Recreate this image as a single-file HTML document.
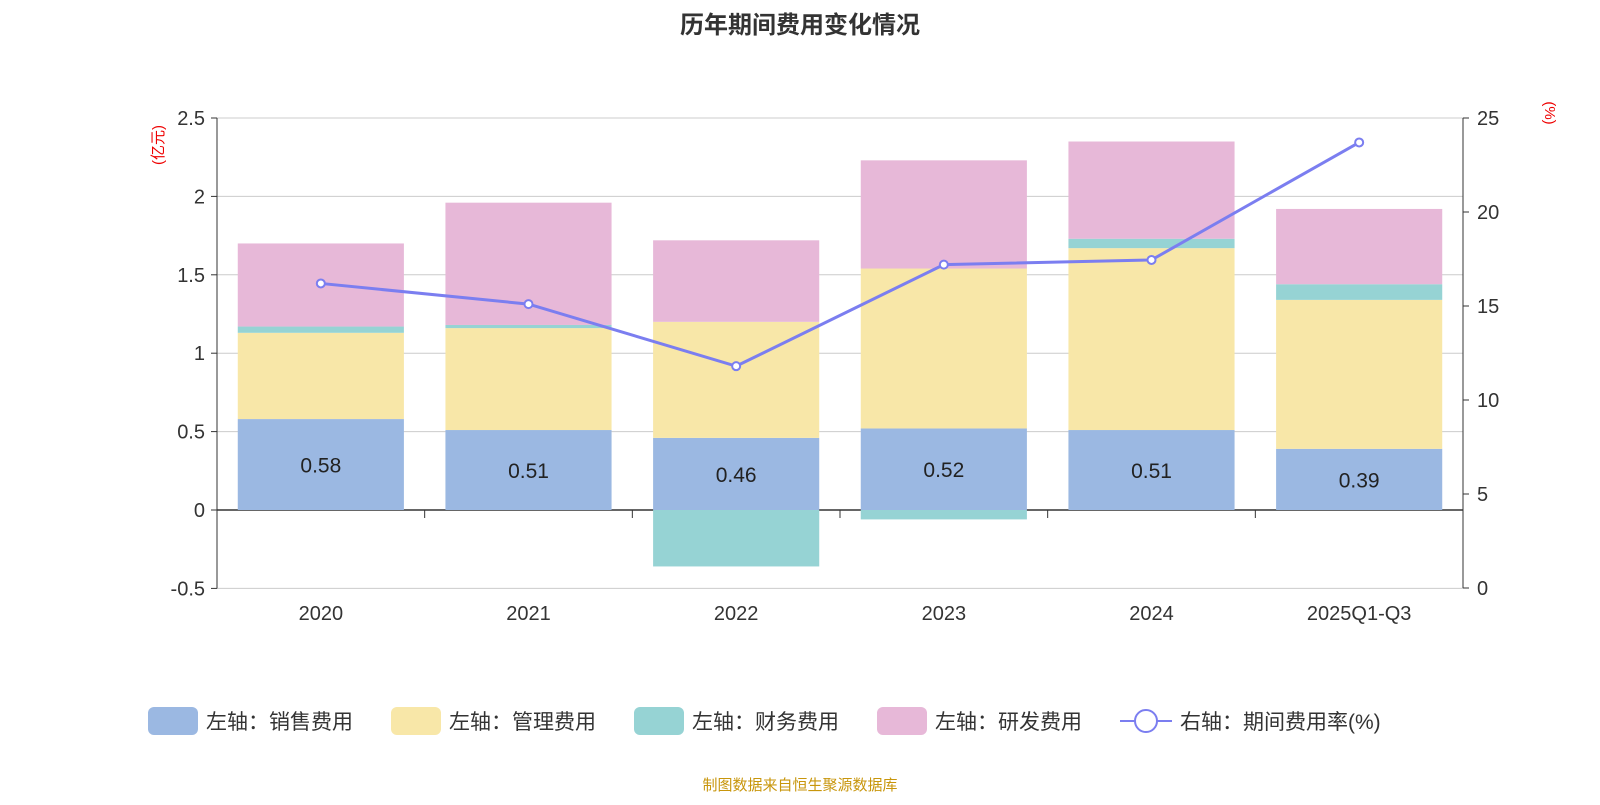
<!DOCTYPE html>
<html><head><meta charset="utf-8">
<style>
body{margin:0;background:#fff;font-family:"Liberation Sans","Noto Sans CJK SC",sans-serif;}
svg text{font-family:"Liberation Sans","Noto Sans CJK SC",sans-serif;}
</style></head>
<body>
<svg id="chart" width="1600" height="800" xmlns="http://www.w3.org/2000/svg">
<text x="800" y="33" text-anchor="middle" font-size="24" font-weight="bold" fill="#333">历年期间费用变化情况</text>
<text transform="translate(163,145) rotate(-90)" text-anchor="middle" font-size="15" fill="#e00">(亿元)</text>
<text transform="translate(1545,113) rotate(90)" text-anchor="middle" font-size="15" fill="#e00">(%)</text>
<g id="grid"></g><g id="bars"></g><g id="axes"></g><g id="line"></g>
<g id="legend"></g>
<text x="800" y="790" text-anchor="middle" font-size="15" fill="#c8960c">制图数据来自恒生聚源数据库</text>
</svg>
<script>
const categories=["2020","2021","2022","2023","2024","2025Q1-Q3"];
const sales=[0.58,0.51,0.46,0.52,0.51,0.39];
const mgmt=[0.55,0.65,0.74,1.02,1.16,0.95];
const fin=[0.04,0.02,-0.36,-0.06,0.06,0.10];
const rnd=[0.53,0.78,0.52,0.69,0.62,0.48];
const rate=[16.2,15.1,11.8,17.2,17.45,23.7];
const leftTicks=[-0.5,0,0.5,1,1.5,2,2.5];
const rightTicks=[0,5,10,15,20,25];
const NS="http://www.w3.org/2000/svg";
const X0=217,X1=1463,Y0=510,PX=156.8;
const yL=v=>Y0-v*PX;
const yR=v=>588-v*18.8;
const band=(X1-X0)/categories.length;
const xc=i=>X0+band*(i+0.5);
function mk(tag,attrs,parent,text){const e=document.createElementNS(NS,tag);for(const k in attrs)e.setAttribute(k,attrs[k]);if(text!==undefined)e.textContent=text;document.getElementById(parent).appendChild(e);return e;}
leftTicks.forEach(t=>{
 const g=mk('line',{x1:X0,x2:X1,y1:yL(t),y2:yL(t),stroke:t===0?'#333':'#ccc','stroke-width':t===0?1.5:1},'grid');
 
 
 const l=mk('text',{x:X0-12,y:yL(t)+7,'text-anchor':'end','font-size':20,fill:'#333'},'axes',String(t));
 
 
});
rightTicks.forEach(t=>{
 const l=mk('text',{x:X1+14,y:yR(t)+7,'font-size':20,fill:'#333'},'axes',String(t));
 
 
 mk('line',{x1:X1,x2:X1+6,y1:yR(t),y2:yR(t),stroke:'#333'},'axes');
});
mk('line',{x1:X0,x2:X0,y1:yL(2.5),y2:yL(-0.5),stroke:'#333'},'axes');
mk('line',{x1:X1,x2:X1,y1:yR(25),y2:yR(0),stroke:'#333'},'axes');
leftTicks.forEach(t=>mk('line',{x1:X0-6,x2:X0,y1:yL(t),y2:yL(t),stroke:'#333'},'axes'));
for(let i=1;i<categories.length;i++)mk('line',{x1:X0+band*i,x2:X0+band*i,y1:Y0,y2:Y0+8,stroke:'#333'},'axes');
const colors=['#9bb8e2','#f8e7a8','#96d3d4','#e7b8d8'];
const series=[sales,mgmt,fin,rnd];
const bw=band*0.8;
categories.forEach((c,i)=>{
 let pos=0,neg=0;
 series.forEach((s,k)=>{
  const v=s[i];let y1,y2;
  if(v>=0){y1=pos;y2=pos+v;pos=y2;}else{y1=neg;y2=neg+v;neg=y2;}
  const r=mk('rect',{x:xc(i)-bw/2,y:Math.min(yL(y1),yL(y2)),width:bw,height:Math.abs(yL(y2)-yL(y1)),fill:colors[k]},'bars');
  
  
 });
 const l=mk('text',{x:xc(i),y:yL(sales[i]/2)+8,'text-anchor':'middle','font-size':21,fill:'#222'},'bars',sales[i].toFixed(2));
 
 
 const xl=mk('text',{x:xc(i),y:620,'text-anchor':'middle','font-size':20,fill:'#333'},'axes',c);
 
 
});
const pl=mk('polyline',{points:rate.map((v,i)=>xc(i)+','+yR(v)).join(' '),fill:'none',stroke:'#7b7ef0','stroke-width':3},'line');


rate.forEach((v,i)=>{
 const p=mk('circle',{cx:xc(i),cy:yR(v),r:4,fill:'#fff',stroke:'#7b7ef0','stroke-width':2},'line');
 
 
});
const legends=[['左轴：销售费用',148],['左轴：管理费用',391],['左轴：财务费用',634],['左轴：研发费用',877]];
legends.forEach((l,k)=>{
 const r=mk('rect',{x:l[1],y:707,width:50,height:28,rx:6,fill:colors[k]},'legend');
 
 
 const t=mk('text',{x:l[1]+58,y:729,'font-size':21,fill:'#333'},'legend',l[0]);
 
 
});
mk('line',{x1:1120,x2:1172,y1:721,y2:721,stroke:'#7b7ef0','stroke-width':2},'legend');
mk('circle',{cx:1146,cy:721,r:11,fill:'#fff',stroke:'#7b7ef0','stroke-width':2},'legend');
const lt=mk('text',{x:1180,y:729,'font-size':21,fill:'#333'},'legend','右轴：期间费用率(%)');


</script>
</body></html>
